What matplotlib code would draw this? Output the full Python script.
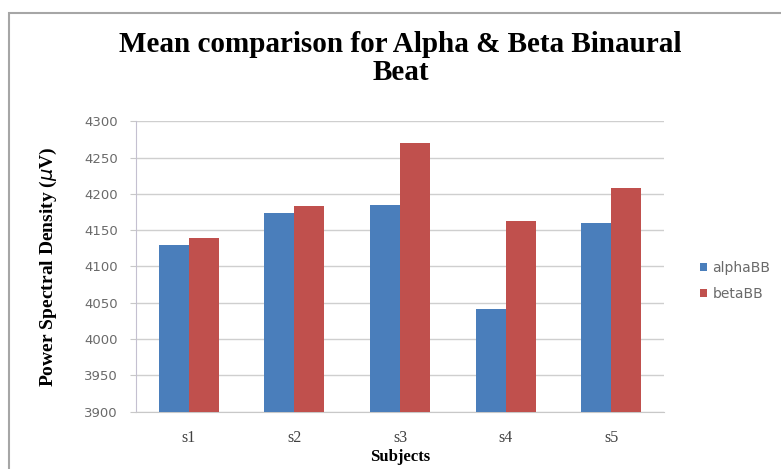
import matplotlib
matplotlib.use("Agg")
import matplotlib.pyplot as plt
from matplotlib.patches import Rectangle
import numpy as np

# Mean PSD per subject for each binaural beat
subjects = ["s1", "s2", "s3", "s4", "s5"]
alpha_bb = [4129, 4173, 4184, 4042, 4160]
beta_bb = [4139, 4183, 4270, 4162, 4208]
yticks = [3900, 3950, 4000, 4050, 4100, 4150, 4200, 4250, 4300]

blue = "#4a7ebb"
red = "#c0504d"

fig = plt.figure(figsize=(7.81, 4.69), dpi=100)
fig.patch.set_facecolor("white")

# outer chart frame (runs off the right and bottom edges)
frame = Rectangle((9 / 781, -0.2), 1.2, 1 - 13 / 469 + 0.2, transform=fig.transFigure,
                  fill=False, edgecolor="#a6a6a6", linewidth=1.5)
fig.patches.append(frame)

ax = fig.add_axes([136 / 781, 1 - 411.7 / 469, 528 / 781, 290.5 / 469])

x = np.arange(len(subjects))
w = 0.284
ax.bar(x - w / 2, alpha_bb, w, color=blue, label="alphaBB", zorder=3)
ax.bar(x + w / 2, beta_bb, w, color=red, label="betaBB", zorder=3)

ax.set_xlim(-0.5, len(subjects) - 0.5)
ax.set_ylim(3900, 4300)
ax.set_yticks(yticks)
ax.yaxis.grid(True, color="#cfcfcf", linewidth=1, zorder=0)

for s in ["top", "right"]:
    ax.spines[s].set_visible(False)
ax.spines["left"].set_color("#c4c0d0")
ax.spines["bottom"].set_color("#c8c8c8")

ax.tick_params(axis="y", length=4, color="#c8c8c8", labelsize=9.5,
               labelcolor="#6a6a6a", pad=9)
ax.tick_params(axis="x", length=0, pad=13)
ax.set_xticks(x)
ax.set_xticklabels(subjects, family="Liberation Serif", fontsize=11.5, color="#404040")
for lbl in ax.get_yticklabels():
    lbl.set_family("DejaVu Sans")

ax.set_xlabel("Subjects", family="Liberation Serif", fontweight="bold",
              fontsize=12, labelpad=2)
ax.set_ylabel(r"Power Spectral Density ($\mu$V)", family="Liberation Serif",
              fontweight="bold", fontsize=14, labelpad=18)

# two-line title
fig.text(0.513, 1 - 52 / 469, "Mean comparison for Alpha & Beta Binaural",
         ha="center", va="baseline", family="Liberation Serif",
         fontweight="bold", fontsize=21)
fig.text(0.513, 1 - 80 / 469, "Beat",
         ha="center", va="baseline", family="Liberation Serif",
         fontweight="bold", fontsize=21)

leg = ax.legend(loc="center left", bbox_to_anchor=(693 / 781, 1 - 281 / 469),
                bbox_transform=fig.transFigure, frameon=False, fontsize=10,
                handlelength=0.5, handleheight=0.5, handletextpad=0.4,
                labelspacing=0.85, borderpad=0)
for t in leg.get_texts():
    t.set_color("#6a6a6a")

fig.savefig("out.png", dpi=100, facecolor="white")
